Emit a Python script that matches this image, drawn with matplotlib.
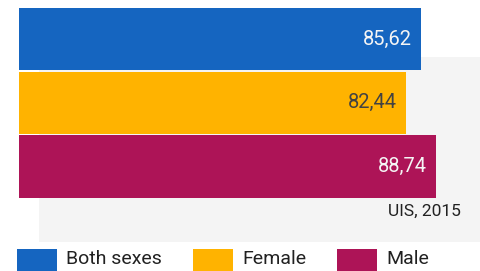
import matplotlib
matplotlib.use("Agg")
import matplotlib.pyplot as plt
from matplotlib.patches import Rectangle

# data
categories = ["Both sexes", "Female", "Male"]
values = [85.62, 82.44, 88.74]
value_labels = ["85,62", "82,44", "88,74"]
source_note = "UIS, 2015"

bar_colors = ["#1565C0", "#FFB300", "#AD1457"]
label_colors = ["#F5F5F5", "#424242", "#F5F5F5"]

plt.rcParams["font.family"] = ["Roboto", "DejaVu Sans"]

W, H = 481, 271
fig = plt.figure(figsize=(W / 100, H / 100), dpi=100)
fig.patch.set_facecolor("white")


def fx(px):
    return px / W


def fy(py):
    # py measured from top of image
    return 1 - py / H


# grey backdrop panel behind the bars
fig.patches.append(Rectangle((fx(39), fy(242)), fx(481 - 39), (242 - 57) / H,
                             transform=fig.transFigure, facecolor="#F4F4F4",
                             edgecolor="none", zorder=0))

# bar axes
ax = fig.add_axes([fx(19), fy(198.5), fx(W - 19), (198.5 - 7) / H])
ax.set_zorder(2)
ax.set_facecolor("none")
ax.set_xlim(0, (W - 19) / 4.696)
ax.set_ylim(2.5, -0.5)
ypos = list(range(len(categories)))
ax.barh(ypos, values, height=0.975, color=bar_colors, zorder=2)
for y, v, lab, c in zip(ypos, values, value_labels, label_colors):
    ax.annotate(lab, (v, y), xytext=(-6.5, 0), textcoords="offset points",
                ha="right", va="center", color=c, fontsize=14.5, zorder=3)
ax.axis("off")

# source note
fig.text(fx(461), fy(211), source_note, ha="right", va="center",
         fontsize=12.5, color="#212121", zorder=3)

# legend drawn by hand along the bottom
swatch_x = [17, 193, 337]
for x0, name, c in zip(swatch_x, categories, bar_colors):
    fig.patches.append(Rectangle((fx(x0), fy(271)), fx(40), 22 / H,
                                 transform=fig.transFigure, facecolor=c,
                                 edgecolor="none"))
    fig.text(fx(x0 + 49), fy(259), name, ha="left", va="center",
             fontsize=14, color="#212121")

fig.savefig("out.png", dpi=100, facecolor="white")
